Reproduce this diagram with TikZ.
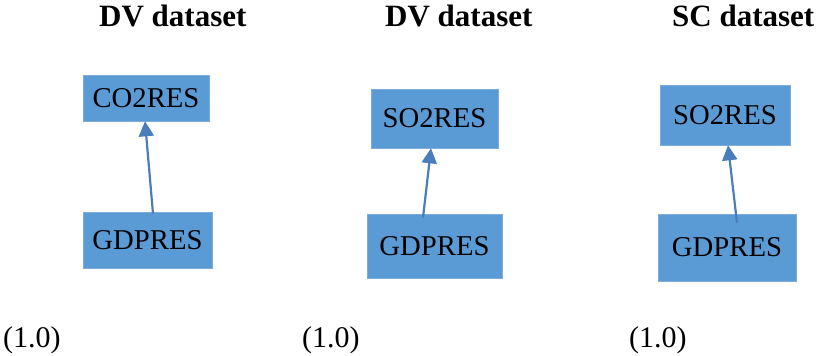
\documentclass[tikz,border=0pt]{standalone}
\usepackage{fontspec}
\setmainfont{Liberation Serif}
\usetikzlibrary{arrows.meta}
\definecolor{boxblue}{RGB}{91,155,213}
\definecolor{boxedge}{RGB}{125,172,220}
\definecolor{arrowblue}{RGB}{74,126,187}
\begin{document}
\begin{tikzpicture}[x=1pt,y=-1pt,
  vbox/.style={rectangle, fill=boxblue, draw=boxedge, line width=0.6pt, inner sep=0pt,
    font=\fontsize{28.7}{30}\selectfont, text=black},
  title/.style={anchor=base west, inner sep=0pt, font=\fontsize{31}{33}\selectfont\bfseries},
  lbl/.style={anchor=base west, inner sep=0pt, font=\fontsize{30}{32}\selectfont},
  arr/.style={draw=arrowblue, line width=2.2pt, -{Triangle[length=15pt,width=15pt]}}
]
\useasboundingbox (0,0) rectangle (822,356);
% titles
\node[title] (t1) at (99,27) {DV dataset};
\node[title] (t2) at (385,27) {DV dataset};
\node[title] (t3) at (672,27) {SC dataset};
% labels
\node[lbl] (l1) at (3,347) {(1.0)};
\node[lbl] (l2) at (302,347) {(1.0)};
\node[lbl] (l3) at (629,347) {(1.0)};
% boxes
\node[vbox, minimum width=126pt, minimum height=46pt] (c1) at (146,98) {CO2RES};
\node[vbox, minimum width=129pt, minimum height=56pt] (g1) at (147.5,240) {GDPRES};
\node[vbox, minimum width=127pt, minimum height=59pt] (s2) at (434.5,118.5) {SO2RES};
\node[vbox, minimum width=135pt, minimum height=64pt] (g2) at (434.5,246) {GDPRES};
\node[vbox, minimum width=130pt, minimum height=60pt] (s3) at (725,115) {SO2RES};
\node[vbox, minimum width=138pt, minimum height=67pt] (g3) at (727,247.5) {GDPRES};
% arrows
\draw[arr] ([xshift=5.5pt,yshift=-2pt]g1.north) -- ([xshift=-1pt]c1.south);
\draw[arr] ([xshift=-11.5pt,yshift=-4pt]g2.north) -- ([xshift=-3.5pt]s2.south);
\draw[arr] ([xshift=10pt,yshift=-9pt]g3.north) -- ([xshift=3pt]s3.south);
\end{tikzpicture}
\end{document}
